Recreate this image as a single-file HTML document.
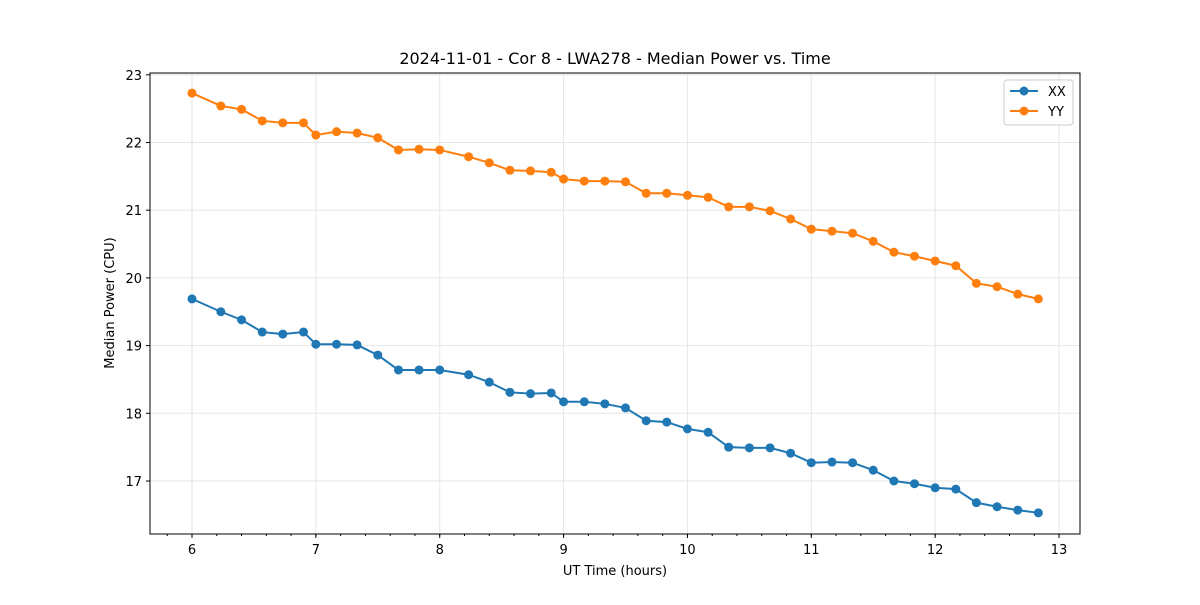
<!DOCTYPE html>
<html><head><meta charset="utf-8"><style>
body{margin:0;background:#fff;font-family:"Liberation Sans","DejaVu Sans",sans-serif}
</style></head><body>
<svg id="chart" width="1200" height="600" xmlns="http://www.w3.org/2000/svg" font-family="DejaVu Sans, Liberation Sans, sans-serif">
<rect width="1200" height="600" fill="#fff"/>
<text x="615" y="64" font-size="16" text-anchor="middle">2024-11-01 - Cor 8 - LWA278 - Median Power vs. Time</text>
<g id="grid"></g><g id="axes"></g><g id="series"></g>
<rect x="150" y="73" width="930" height="461" fill="none" stroke="#000" stroke-width="1"/>
<text x="615" y="575" font-size="13" text-anchor="middle">UT Time (hours)</text>
<text transform="translate(114,303) rotate(-90)" font-size="13" text-anchor="middle">Median Power (CPU)</text>
<g>
<rect x="1004" y="80" width="69" height="45" rx="3" fill="#fff" stroke="#ccc"/>
<line x1="1010" y1="91" x2="1038" y2="91" stroke="#1f77b4" stroke-width="2"/><circle cx="1024" cy="91" r="4.5" fill="#1f77b4"/>
<text x="1048" y="96" font-size="13">XX</text>
<line x1="1010" y1="111" x2="1038" y2="111" stroke="#ff7f0e" stroke-width="2"/><circle cx="1024" cy="111" r="4.5" fill="#ff7f0e"/>
<text x="1048" y="116" font-size="13">YY</text>
</g>
</svg>
<script>
const times=[6,6.233,6.4,6.567,6.733,6.9,7.0,7.167,7.333,7.5,7.667,7.833,8.0,8.233,8.4,8.567,8.733,8.9,9.0,9.167,9.333,9.5,9.667,9.833,10.0,10.167,10.333,10.5,10.667,10.833,11.0,11.167,11.333,11.5,11.667,11.833,12.0,12.167,12.333,12.5,12.667,12.833];
const xxValues=[19.69,19.50,19.38,19.20,19.17,19.20,19.02,19.02,19.01,18.86,18.64,18.64,18.64,18.57,18.46,18.31,18.29,18.30,18.17,18.17,18.14,18.08,17.89,17.87,17.77,17.72,17.50,17.49,17.49,17.41,17.27,17.28,17.27,17.16,17.00,16.96,16.90,16.88,16.68,16.62,16.57,16.53];
const yyValues=[22.73,22.54,22.49,22.32,22.29,22.29,22.11,22.16,22.14,22.07,21.89,21.90,21.89,21.79,21.70,21.59,21.58,21.56,21.46,21.43,21.43,21.42,21.25,21.25,21.22,21.19,21.05,21.05,20.99,20.87,20.72,20.69,20.66,20.54,20.38,20.32,20.25,20.18,19.92,19.87,19.76,19.69];
const xTicks=[6,7,8,9,10,11,12,13];
const yTicks=[17,18,19,20,21,22,23];
const NS="http://www.w3.org/2000/svg";
const xs=t=>192+(t-6)*123.86;
const ys=v=>481-(v-17)*67.7;
function mk(tag,attrs,parent){const e=document.createElementNS(NS,tag);for(const k in attrs)e.setAttribute(k,attrs[k]);parent.appendChild(e);return e;}
const grid=document.getElementById('grid'),axes=document.getElementById('axes'),series=document.getElementById('series');
xTicks.forEach(t=>{const x=xs(t);
 const g=mk('line',{x1:x,x2:x,y1:73,y2:534,stroke:'#e6e6e6','stroke-width':1},grid);
 
 
 mk('line',{x1:x,x2:x,y1:534,y2:538,stroke:'#000'},axes);
 const l=mk('text',{x:x,y:554,'font-size':13,'text-anchor':'middle'},axes);l.textContent=t;
 
 
});
for(let t=5.8;t<=13.15;t+=0.2){const x=xs(t);if(x<150||x>1080)continue;mk('line',{x1:x,x2:x,y1:534,y2:536,stroke:'#000'},axes);}
yTicks.forEach(v=>{const y=ys(v);
 const g=mk('line',{x1:150,x2:1080,y1:y,y2:y,stroke:'#e6e6e6','stroke-width':1},grid);
 
 
 mk('line',{x1:146,x2:150,y1:y,y2:y,stroke:'#000'},axes);
 const l=mk('text',{x:142,y:y+5,'font-size':13,'text-anchor':'end'},axes);l.textContent=v;
 
 
});
function draw(vals,color,name){
 const p=mk('polyline',{points:times.map((t,i)=>xs(t)+','+ys(vals[i])).join(' '),fill:'none',stroke:color,'stroke-width':2},series);
 
 
 times.forEach((t,i)=>{const c=mk('circle',{cx:xs(t),cy:ys(vals[i]),r:4.5,fill:color},series);
  
  });
}
draw(xxValues,'#1f77b4','xx');
draw(yyValues,'#ff7f0e','yy');
</script>
</body></html>
